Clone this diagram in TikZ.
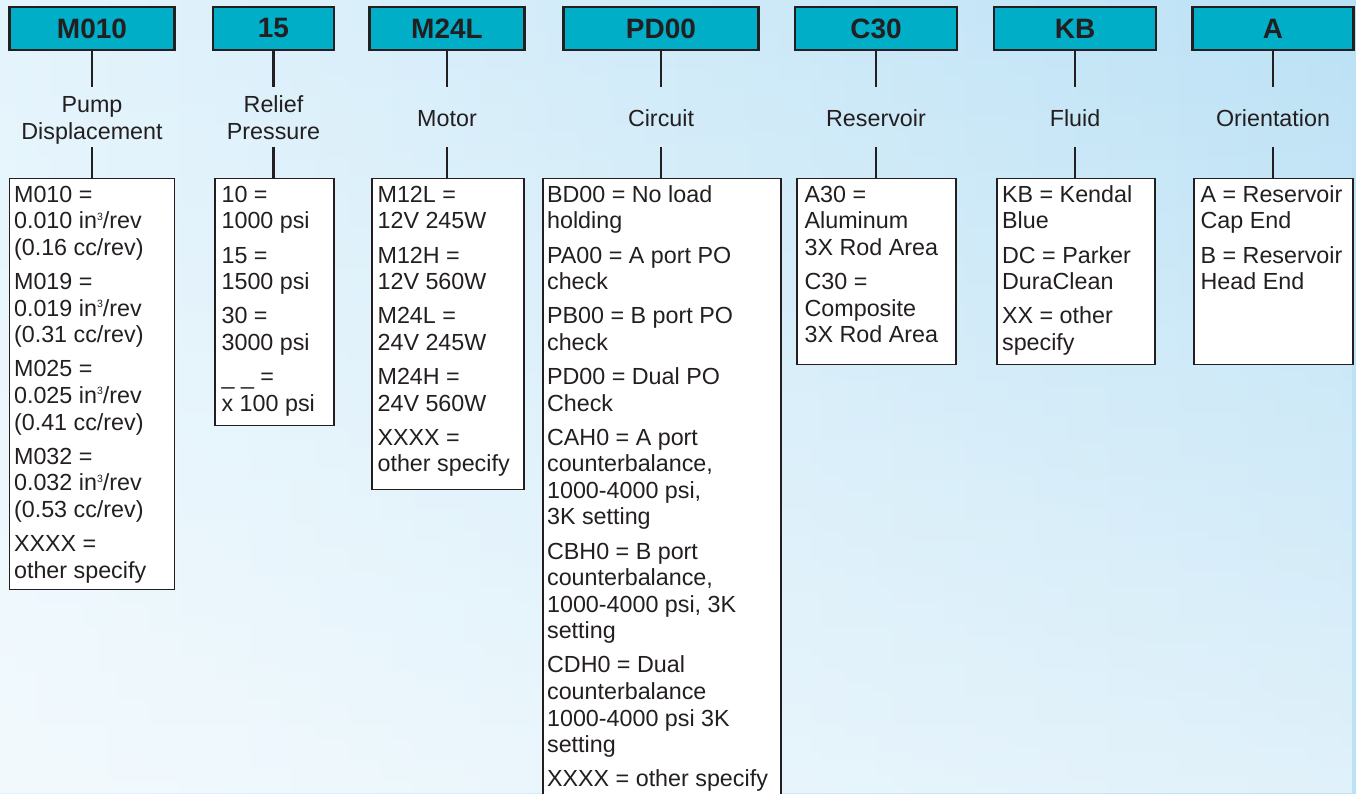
\documentclass[tikz,border=0pt]{standalone}
\usepackage{fontspec}
\setmainfont{Liberation Sans}
\usetikzlibrary{fadings}
\definecolor{ink}{HTML}{231F20}
\definecolor{hdrfill}{HTML}{00AEC7}
\definecolor{bgL}{HTML}{E4F4FC}
\definecolor{bgR}{HTML}{BBE1F5}
\newcommand\cubesup{\raisebox{8.8pt}{\fontsize{10.5}{10.5}\selectfont 3}}
\begin{document}
\begin{tikzpicture}[x=1pt,y=-1pt,
  hdr/.style={draw=ink, line width=2.3pt, fill=hdrfill, minimum height=43pt, inner sep=0pt,
    text=ink, font=\fontsize{28}{30}\selectfont\bfseries},
  optbox/.style={draw=ink, line width=1.2pt, fill=white, anchor=north, inner sep=0pt},
  txt/.style={anchor=north west, align=left, inner sep=0pt, text=ink,
    font=\fontsize{23.3}{26.6}\selectfont},
  lbl/.style={anchor=north, align=center, inner sep=0pt, text=ink,
    font=\fontsize{23.3}{27}\selectfont},
  conn/.style={draw=ink, line width=2.2pt}]
\useasboundingbox (0,0) rectangle (1356,793);
\shade[left color=bgL, right color=bgR] (0,0) rectangle (1356,793);
\fill[white, opacity=0.55, path fading=north] (0,0) rectangle (1356,793);

% headers
\node[hdr, minimum width=165pt] (h1) at (92,28.5) {M010};
\node[hdr, minimum width=121pt] (h2) at (273.5,28.5) {15};
\node[hdr, minimum width=155pt] (h3) at (447,28.5) {M24L};
\node[hdr, minimum width=195pt] (h4) at (661,28.5) {PD00};
\node[hdr, minimum width=162pt] (h5) at (876,28.5) {C30};
\node[hdr, minimum width=162pt] (h6) at (1075,28.5) {KB};
\node[hdr, minimum width=161pt] (h7) at (1273,28.5) {A};

% labels
\node[lbl] (l1) at (92,93.6) {\strut Pump\\Displacement};
\node[lbl] (l2) at (273.5,93.6) {\strut Relief\\Pressure};
\node[lbl] (l3) at (447,107.3) {\strut Motor};
\node[lbl] (l4) at (661,107.3) {\strut Circuit};
\node[lbl] (l5) at (876,107.3) {\strut Reservoir};
\node[lbl] (l6) at (1075,107.3) {\strut Fluid};
\node[lbl] (l7) at (1273,107.3) {\strut Orientation};

% option boxes
\node[optbox, minimum width=165pt, minimum height=411pt] (b1) at (92,178) {};
\node[optbox, minimum width=119pt, minimum height=247pt] (b2) at (274.5,178) {};
\node[optbox, minimum width=152pt, minimum height=311pt] (b3) at (448,178) {};
\node[optbox, minimum width=238pt, minimum height=640pt] (b4) at (662,178) {};
\node[optbox, minimum width=159pt, minimum height=186pt] (b5) at (876.5,178) {};
\node[optbox, minimum width=158pt, minimum height=186pt] (b6) at (1076,178) {};
\node[optbox, minimum width=159pt, minimum height=186pt] (b7) at (1273.5,178) {};

% connector ends around the labels
\foreach \i/\x in {1/92,2/273.5,3/447,4/661,5/876,6/1075,7/1273}{
  \coordinate (u\i) at (\x,87);
  \coordinate (d\i) at (\x,147);
}
\foreach \i in {1,...,7}{
  \draw[conn] (h\i.south) -- (u\i);
  \draw[conn] (d\i) -- (d\i |- b\i.north);
}

% box texts
\node[txt] (t1) at ([shift={(5,5.5)}]b1.north west) {\strut M010 =\\0.010 in\cubesup/rev\\(0.16 cc/rev)\\[7.5pt]M019 =\\0.019 in\cubesup/rev\\(0.31 cc/rev)\\[7.5pt]M025 =\\0.025 in\cubesup/rev\\(0.41 cc/rev)\\[7.5pt]M032 =\\0.032 in\cubesup/rev\\(0.53 cc/rev)\\[7.5pt]XXXX =\\other specify};
\node[txt] (t2) at ([shift={(7,5.5)}]b2.north west) {\strut 10 =\\1000 psi\\[7.5pt]15 =\\1500 psi\\[7.5pt]30 =\\3000 psi\\[7.5pt]\_ \_ =\\x 100 psi};
\node[txt] (t3) at ([shift={(6,5.5)}]b3.north west) {\strut M12L =\\12V 245W\\[7.5pt]M12H =\\12V 560W\\[7.5pt]M24L =\\24V 245W\\[7.5pt]M24H =\\24V 560W\\[7.5pt]XXXX =\\other specify};
\node[txt] (t4) at ([shift={(4.5,5.5)}]b4.north west) {\strut BD00 = No load\\holding\\[7.5pt]PA00 = A port PO\\check\\[7.5pt]PB00 = B port PO\\check\\[7.5pt]PD00 = Dual PO\\Check\\[7.5pt]CAH0 = A port\\counterbalance,\\1000-4000 psi,\\3K setting\\[7.5pt]CBH0 = B port\\counterbalance,\\1000-4000 psi, 3K\\setting\\[7.5pt]CDH0 = Dual\\counterbalance\\1000-4000 psi 3K\\setting\\[7.5pt]XXXX = other specify};
\node[txt] (t5) at ([shift={(8,5.5)}]b5.north west) {\strut A30 =\\Aluminum\\3X Rod Area\\[7.5pt]C30 =\\Composite\\3X Rod Area};
\node[txt] (t6) at ([shift={(5.5,5.5)}]b6.north west) {\strut KB = Kendal\\Blue\\[7.5pt]DC = Parker\\DuraClean\\[7.5pt]XX = other\\specify};
\node[txt] (t7) at ([shift={(7,5.5)}]b7.north west) {\strut A = Reservoir\\Cap End\\[7.5pt]B = Reservoir\\Head End};
\end{tikzpicture}
\end{document}
